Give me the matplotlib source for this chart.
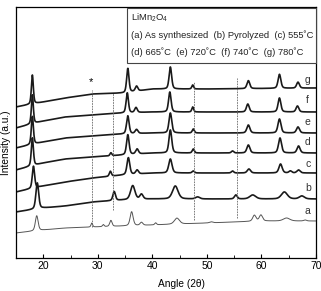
import matplotlib
matplotlib.use("Agg")
import matplotlib.pyplot as plt
from matplotlib.patches import Rectangle
import numpy as np

# Angles (2theta) where the background of each trace is read
BG_ANGLES = [15, 20, 24, 29, 34.7, 40, 50, 60, 70]

# background height of each trace (pixel-like units, 0 = x axis)
BG = {
    "a": [25, 28, 30, 31, 32, 33, 35, 37, 37],
    "b": [46, 50, 52, 56, 58, 59, 59, 59, 59],
    "c": [66, 72, 76, 80, 83, 85, 85, 85, 85],
    "d": [88, 95, 99, 101, 103, 105, 105, 105, 105],
    "e": [110, 116, 120, 122, 124, 125, 125, 125, 125],
    "f": [130, 137, 141, 143, 145, 146, 146, 146, 146],
    "g": [151, 156, 160, 164, 165, 169, 169, 169.5, 170],
}

# peaks: (angle, height, fwhm)
PEAKS = {
    "a": [(18.8, 15, 0.6), (28.9, 4, 0.35), (31.0, 2, 0.35), (32.4, 6, 0.5),
          (36.2, 14, 0.65), (38.0, 3, 0.6), (40.6, 2, 0.4), (44.5, 6, 1.1),
          (50.8, 1, 0.7), (58.7, 6, 0.7), (59.9, 6, 0.7), (64.6, 3, 1.4),
          (68.0, 1, 0.6)],
    "b": [(18.9, 26, 0.6), (33.0, 9, 0.55), (36.4, 14, 0.95), (38.0, 5, 0.7),
          (44.2, 13, 1.2), (48.3, 2, 0.9), (55.3, 4, 0.6), (58.4, 4, 1.3),
          (64.2, 7, 1.3), (67.4, 3, 1.1)],
    "c": [(18.2, 22, 0.5), (32.3, 5, 0.45), (35.6, 17, 0.6), (37.2, 4, 0.6),
          (43.3, 14, 0.7), (47.5, 2, 0.5), (54.7, 2, 0.5), (57.7, 4, 0.7),
          (63.5, 9, 0.7), (65.3, 2, 0.6), (66.8, 3, 0.7)],
    "d": [(18.0, 28, 0.45), (32.4, 3, 0.4), (35.5, 20, 0.55), (37.2, 5, 0.6),
          (43.3, 23, 0.6), (47.5, 4, 0.45), (54.7, 2, 0.5), (57.6, 8, 0.65),
          (63.4, 15, 0.65), (66.8, 7, 0.65)],
    "e": [(18.0, 28, 0.45), (35.5, 18, 0.55), (37.1, 4, 0.6), (43.3, 20, 0.6),
          (47.5, 4, 0.45), (57.6, 8, 0.65), (63.3, 14, 0.65), (66.7, 6, 0.65)],
    "f": [(18.0, 29, 0.42), (35.4, 20, 0.5), (37.0, 5, 0.55), (43.2, 20, 0.55),
          (47.4, 5, 0.4), (57.5, 8, 0.6), (63.3, 14, 0.6), (66.6, 6, 0.6)],
    "g": [(18.0, 29, 0.42), (35.5, 24, 0.5), (37.1, 5, 0.55), (43.3, 22, 0.55),
          (47.4, 4, 0.4), (57.6, 8, 0.6), (63.3, 14, 0.6), (66.7, 6, 0.6)],
}

TRACES = ["a", "b", "c", "d", "e", "f", "g"]
LABEL_Y = [47, 70, 94, 116, 136, 158, 178]

# dashed reference lines: (angle, y bottom, y top)
REF_LINES = [(28.9, 31, 168), (32.7, 48, 165), (47.6, 38, 176), (55.5, 40, 180)]

LEGEND_LINES = [
    r"LiMn$_2$O$_4$",
    "(a) As synthesized  (b) Pyrolyzed  (c) 555˚C",
    "(d) 665˚C  (e) 720˚C  (f) 740˚C  (g) 780˚C",
]

W, H = 321, 291


def trace(name, x):
    y = np.interp(x, BG_ANGLES, BG[name])
    for c, h, w in PEAKS[name]:
        g = np.exp(-4 * np.log(2) * ((x - c) / w) ** 2)
        lo = 1 / (1 + ((x - c) / (w / 2)) ** 2)
        y = y + h * (0.6 * g + 0.4 * lo)
    return y


def main():
    plt.rcParams.update({
        "font.family": ["Liberation Sans", "DejaVu Sans"],
        "font.size": 7,
        "mathtext.fontset": "custom",
        "mathtext.rm": "Liberation Sans",
        "mathtext.it": "Liberation Sans:italic",
    })

    fig = plt.figure(figsize=(W / 100, H / 100), dpi=100)
    ax = fig.add_axes([16 / W, 1 - 258 / H, 300 / W, 251 / H])

    x = np.linspace(15, 70, 2200)
    for name in TRACES:
        if name == "a":
            ax.plot(x, trace(name, x), color="#555555", lw=0.7)
        else:
            ax.plot(x, trace(name, x), color="#1a1a1a", lw=1.2)

    for name, ly in zip(TRACES, LABEL_Y):
        ax.text(68.5, ly, name, ha="center", va="center", fontsize=7.5,
                color="#333333")

    for ang, y0, y1 in REF_LINES:
        ax.plot([ang, ang], [y0, y1], color="#666666", lw=0.6,
                linestyle=(0, (2, 1.2)))

    ax.text(28.7, 176, "*", ha="center", va="center", fontsize=8)

    # legend box, placed in figure pixels
    fig.add_artist(Rectangle((127 / W, 1 - 63 / H), 189 / W, 55 / H,
                             transform=fig.transFigure, facecolor="white",
                             edgecolor="#444444", linewidth=0.8, zorder=5))
    for py, line in zip([18, 35, 52], LEGEND_LINES):
        fig.text(131 / W, 1 - py / H, line, ha="left", va="center",
                 fontsize=6.75, color="#222222", zorder=6)

    ax.set_xlim(15, 70)
    ax.set_ylim(0, 251)
    ax.set_xticks(np.arange(20, 71, 10))
    ax.set_xticks(np.arange(15, 71, 5), minor=True)
    ax.set_yticks([])
    ax.tick_params(axis="x", direction="in", length=3, width=0.8, pad=2,
                   labelsize=7.5)
    ax.tick_params(axis="x", which="minor", direction="in", length=2,
                   width=0.6)
    for sp in ax.spines.values():
        sp.set_linewidth(0.9)
    ax.set_xlabel("Angle (2θ)", fontsize=7.3, labelpad=1)
    ax.xaxis.set_label_coords(0.553, -0.085)
    ax.set_ylabel("Intensity (a.u.)", fontsize=7.3)
    ax.yaxis.set_label_coords(-0.018, 0.458)

    fig.savefig("out.png", dpi=100)


if __name__ == "__main__":
    main()
